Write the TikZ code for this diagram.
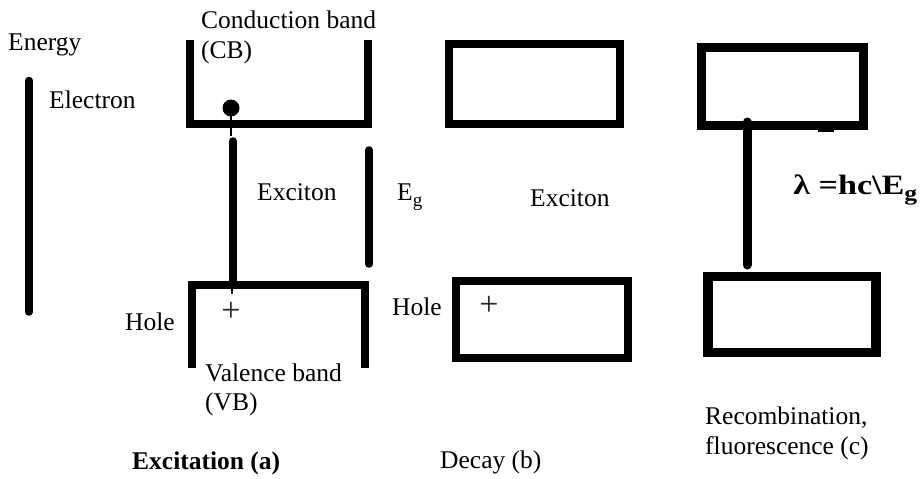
\documentclass[tikz,border=0pt]{standalone}
\usepackage{fontspec}
\setmainfont{Liberation Serif}
\begin{document}
\begin{tikzpicture}[x=1pt,y=-1pt,
  band/.style={line width=8pt, line join=miter, line cap=butt},
  bandc/.style={line width=9.5pt, line join=miter, line cap=butt},
  bar/.style={line width=7.5pt, line cap=round},
  thin/.style={line width=1.4pt},
  lbl/.style={anchor=west, inner sep=0pt, font=\fontsize{25.5}{29}\selectfont},
  title/.style={lbl, font=\fontsize{25.5}{29}\selectfont\bfseries},
  plus/.style={inner sep=0pt, text=black!85, font=\fontsize{34}{36}\selectfont}
]
\useasboundingbox[fill=white] (0,0) rectangle (924,479);

% energy axis
\coordinate (eTop) at (29,80.5);
\coordinate (eBot) at (29,312);
\draw[bar] (eTop) -- (eBot);
\node[lbl] (energy) at (8,45) {Energy};
\node[lbl] (electron) at (49,100) {Electron};

% (a) excitation: open conduction and valence bands
\coordinate (cbL) at (190,40);
\coordinate (cbR) at (368,40);
\draw[band] (cbL) -- (190,124) -- (368,124) -- (cbR);
\coordinate (vbL) at (192,368);
\coordinate (vbR) at (365,368);
\draw[band] (vbL) -- (192,285) -- (365,285) -- (vbR);

\node[lbl] (cb1) at (201,20) {Conduction band};
\node[lbl] (cb2) at (201,52) {(CB)};
\node[lbl] (vb1) at (205,373) {Valence band};
\node[lbl] (vb2) at (205,404) {(VB)};

\node[circle, fill=black, inner sep=0pt, minimum size=17pt] (dot) at (231,108) {};
\coordinate (exTop) at (233,141);
\coordinate (exBot) at (233,282);
\draw[thin] (dot.center) -- (231,136);
\draw[bar] (exTop) -- (exBot);
\draw[thin] (232,282) -- (232,294);
\node[plus] (holeA) at (231,312) {+};
\node[lbl] (holeAlbl) at (125,322) {Hole};
\node[lbl] (excA) at (257,192) {Exciton};

% band gap
\coordinate (egTop) at (369,150);
\coordinate (egBot) at (369,264);
\draw[bar] (egTop) -- (egBot);
\node[lbl] (eg) at (397,197) {E\raisebox{-0.22em}{\fontsize{19}{19}\selectfont g}};

\node[title] (capA) at (132,463) {Excitation (a)};

% (b) decay
\draw[band] (449,44) rectangle (620,124);
\draw[band] (456,281) rectangle (628,358);
\node[lbl] (excB) at (530,198) {Exciton};
\node[lbl] (holeBlbl) at (392,307) {Hole};
\node[plus] (holeB) at (489,306) {+};
\node[lbl] (capB) at (440,462) {Decay (b)};

% (c) recombination
\draw[bandc] (701.5,47.5) rectangle (863.5,125.5);
\draw[line width=4pt] (818,130) -- (834,130);
\draw[bandc] (708,276.5) rectangle (876,352.5);
\coordinate (rcTop) at (747,122);
\coordinate (rcBot) at (747,265);
\draw[line width=9pt, line cap=round] (rcTop) -- (rcBot);
\node[title, font=\fontsize{28}{30}\selectfont\bfseries, xscale=1.22] (lam) at (793,190)
  {λ =hc\textbackslash E\raisebox{-0.22em}{\fontsize{21}{21}\selectfont g}};
\node[lbl] (capC1) at (705,418) {Recombination,};
\node[lbl] (capC2) at (705,448) {fluorescence (c)};
\end{tikzpicture}
\end{document}
